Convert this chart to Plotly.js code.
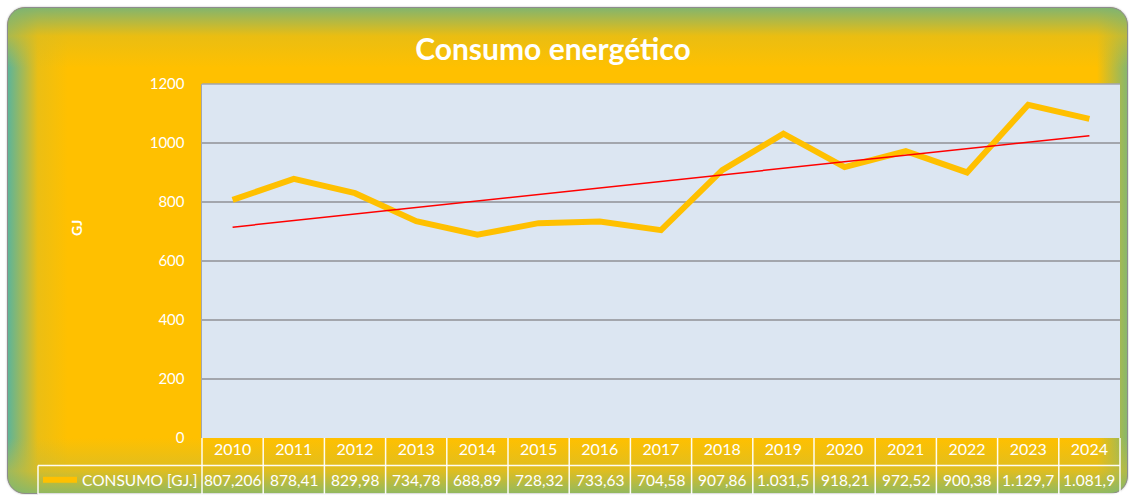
<!DOCTYPE html>
<html>
<head>
<meta charset="utf-8">
<script src="https://cdn.plot.ly/plotly-3.0.1.min.js"></script>
<style>
  html, body { margin: 0; padding: 0; background: #ffffff; }
  #wrap { position: relative; width: 1129px; height: 495px; overflow: hidden; }
  #bg {
    position: absolute; left: 7px; top: 7px; width: 1121px; height: 487px;
    border-radius: 18px; border: 1px solid #8c8c8c; box-sizing: border-box;
    background:
      linear-gradient(to bottom, rgba(125,180,115,0.95) 0px, rgba(220,188,30,0.6) 28px, rgba(255,192,0,0) 60px),
      linear-gradient(to top, rgba(135,184,105,0.9) 0px, rgba(200,188,55,0.6) 22px, rgba(255,192,0,0) 55px),
      linear-gradient(to right, rgba(85,180,160,0.95) 0px, rgba(215,188,40,0.5) 30px, rgba(255,192,0,0) 60px),
      linear-gradient(to left, rgba(115,182,125,0.85) 0px, rgba(255,192,0,0) 30px),
      #FFC000;
    box-shadow: 0 0 2px rgba(0,0,0,0.3);
  }
  #chart { position: absolute; left: 0; top: 0; width: 1129px; height: 495px; }
</style>
</head>
<body>
<div id="wrap">
  <div id="bg"></div>
  <div id="chart"></div>
</div>
<script>
const years = ['2010','2011','2012','2013','2014','2015','2016','2017','2018','2019','2020','2021','2022','2023','2024'];
const consumo = [807.206, 878.41, 829.98, 734.78, 688.89, 728.32, 733.63, 704.58, 907.86, 1031.5, 918.21, 972.52, 900.38, 1129.7, 1081.9];
const consumoLabels = ['807,206','878,41','829,98','734,78','688,89','728,32','733,63','704,58','907,86','1.031,5','918,21','972,52','900,38','1.129,7','1.081,9'];
const seriesName = 'CONSUMO [GJ.]';
const yTicks = [0, 200, 400, 600, 800, 1000, 1200];

// linear trendline (least squares) from the data
const n = consumo.length;
const xs = consumo.map((_, i) => i);
const mx = xs.reduce((a, b) => a + b, 0) / n;
const my = consumo.reduce((a, b) => a + b, 0) / n;
let sxy = 0, sxx = 0;
for (let i = 0; i < n; i++) { sxy += (xs[i] - mx) * (consumo[i] - my); sxx += (xs[i] - mx) ** 2; }
const slope = sxy / sxx, intercept = my - slope * mx;
const trend = xs.map(x => intercept + slope * x);

const FONT = 'Lato, "Open Sans", sans-serif';
const W = 'rgba(255,255,255,0.95)';
const GRID = '#A3A6AD';

// table geometry in paper units (plot area: 354px tall)
const rowH = 27.5 / 354;
const hdrBottom = -rowH;
const dataBottom = -2 * rowH - 1 / 354;
const dataMid = (hdrBottom + dataBottom) / 2;
const legLeft = (38 - 202) / 918;

const shapes = [];
// top border of plot area (gridline at max)
shapes.push({type: 'line', xref: 'paper', yref: 'paper', x0: 0, x1: 1, y0: 1, y1: 1, line: {color: GRID, width: 1.5}});
// header / data row vertical lines
for (let i = 0; i <= n; i++) {
  shapes.push({type: 'line', xref: 'paper', yref: 'paper', x0: i / n, x1: i / n, y0: 0, y1: dataBottom,
    line: {color: W, width: 1.5}});
}
shapes.push({type: 'line', xref: 'paper', yref: 'paper', x0: legLeft, x1: 1, y0: hdrBottom, y1: hdrBottom, line: {color: W, width: 1.5}});
shapes.push({type: 'line', xref: 'paper', yref: 'paper', x0: legLeft, x1: 1, y0: dataBottom, y1: dataBottom, line: {color: W, width: 1.5}});
shapes.push({type: 'line', xref: 'paper', yref: 'paper', x0: legLeft, x1: legLeft, y0: hdrBottom, y1: dataBottom, line: {color: W, width: 1.5}});
// legend line sample
shapes.push({type: 'line', xref: 'paper', yref: 'paper', x0: (43 - 202) / 918, x1: (77 - 202) / 918, y0: dataMid, y1: dataMid,
  line: {color: '#FFC000', width: 6}});

const annotations = consumoLabels.map((t, i) => ({
  x: (i + 0.5) / n, xref: 'paper', y: dataMid, yref: 'paper', text: t, showarrow: false,
  font: {family: FONT, size: 15.5, color: '#ffffff'}, xanchor: 'center', yanchor: 'middle'
}));
annotations.push({x: (80 - 202) / 918, xref: 'paper', y: dataMid, yref: 'paper', text: seriesName, showarrow: false,
  font: {family: FONT, size: 15.5, color: '#ffffff'}, xanchor: 'left', yanchor: 'middle'});
annotations.push({x: 0, xref: 'paper', xshift: 76 - 202, y: (438 - 228) / 354, yref: 'paper', text: '<b>GJ</b>', showarrow: false,
  textangle: -90, font: {family: FONT, size: 14, color: '#ffffff'}, xanchor: 'center', yanchor: 'middle'});

const traces = [
  {x: years, y: consumo, type: 'scatter', mode: 'lines', name: seriesName,
   line: {color: '#FFC000', width: 6}, showlegend: false},
  {x: years, y: trend, type: 'scatter', mode: 'lines', name: 'Lineal',
   line: {color: '#FF0000', width: 1.5}, showlegend: false}
];

const layout = {
  width: 1129, height: 495,
  margin: {l: 202, r: 9, t: 84, b: 57},
  paper_bgcolor: 'rgba(0,0,0,0)',
  plot_bgcolor: '#DCE6F2',
  title: {text: '<b>Consumo energético</b>', x: 553 / 1129, xanchor: 'center', y: 1 - 49 / 495, yanchor: 'middle',
    font: {family: FONT, size: 30, color: '#ffffff'}},
  xaxis: {type: 'category', range: [-0.5, n - 0.5], showgrid: false, zeroline: false, showline: false,
    ticks: '', tickfont: {family: FONT, size: 16, color: '#ffffff'}, fixedrange: true},
  yaxis: {range: [0, 1200], tickvals: yTicks, showgrid: true, gridcolor: GRID, gridwidth: 1.5,
    zeroline: false, showline: true, linecolor: GRID, linewidth: 1.5,
    ticks: 'outside', ticklen: 13, tickcolor: 'rgba(0,0,0,0)',
    tickfont: {family: FONT, size: 15, color: '#ffffff'}, fixedrange: true},
  shapes: shapes,
  annotations: annotations,
  showlegend: false
};

Plotly.newPlot('chart', traces, layout, {displayModeBar: false, staticPlot: true});
</script>
</body>
</html>
